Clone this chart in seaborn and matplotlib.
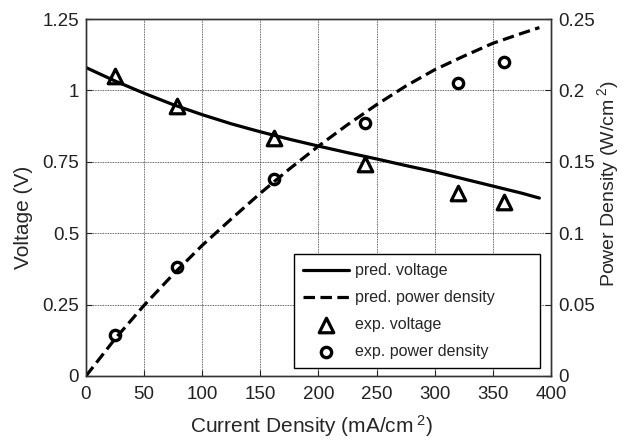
import numpy as np
import pandas as pd
import matplotlib
matplotlib.use("Agg")
import matplotlib.pyplot as plt
import seaborn as sns

# predicted curves
curve_i = [0, 25, 50, 75, 100, 125, 150, 175, 200, 225, 250, 275, 300, 325, 350, 375, 390]
pred_voltage = [1.08, 1.033, 0.99, 0.95, 0.915, 0.883, 0.855, 0.829, 0.805, 0.782, 0.76, 0.737, 0.715, 0.69, 0.665, 0.64, 0.623]
pred_power = [0.0, 0.026, 0.0495, 0.0712, 0.0915, 0.110, 0.128, 0.145, 0.161, 0.176, 0.19, 0.203, 0.2145, 0.224, 0.233, 0.240, 0.244]

# experimental points
exp_i = [25, 78, 162, 240, 320, 360]
exp_voltage = [1.05, 0.945, 0.835, 0.742, 0.64, 0.61]
exp_power = [0.029, 0.076, 0.138, 0.177, 0.205, 0.22]

sns.set_style("ticks")
plt.rcParams["font.family"] = ["Liberation Sans", "DejaVu Sans"]
plt.rcParams["mathtext.fontset"] = "custom"
plt.rcParams["mathtext.rm"] = "Liberation Sans"
plt.rcParams["mathtext.it"] = "Liberation Sans"

curves = pd.DataFrame({"i": curve_i, "v": pred_voltage, "p": pred_power})
pts = pd.DataFrame({"i": exp_i, "v": exp_voltage, "p": exp_power})

fig = plt.figure(figsize=(6.24, 4.41), dpi=100)
ax = fig.add_axes([0.1378, 0.1474, 0.7452, 0.8095])
ax2 = ax.twinx()

sns.lineplot(data=curves, x="i", y="v", ax=ax, color="black", lw=2.3,
             label="pred. voltage", legend=False)
sns.scatterplot(data=pts, x="i", y="v", ax=ax, marker="^", s=110,
                facecolor="white", edgecolor="black", linewidth=2.3,
                label="exp. voltage", legend=False)
sns.lineplot(data=curves, x="i", y="p", ax=ax2, color="black", lw=2.3,
             label="pred. power density", legend=False)
ax2.lines[-1].set_dashes([3.6, 1.7])
sns.scatterplot(data=pts, x="i", y="p", ax=ax2, marker="o", s=55,
                facecolor="white", edgecolor="black", linewidth=2.4,
                label="exp. power density", legend=False)

ax.set_xlim(0, 400)
ax.set_ylim(0, 1.25)
ax2.set_ylim(0, 0.25)
ax.set_xticks(np.arange(0, 401, 50))
ax.set_yticks([0, 0.25, 0.5, 0.75, 1, 1.25])
ax.set_yticklabels(["0", "0.25", "0.5", "0.75", "1", "1.25"])
ax2.set_yticks([0, 0.05, 0.1, 0.15, 0.2, 0.25])
ax2.set_yticklabels(["0", "0.05", "0.1", "0.15", "0.2", "0.25"])

ax.grid(True, color="black", linestyle=(0, (1, 1)), linewidth=0.6, alpha=0.8)
for a in (ax, ax2):
    a.tick_params(direction="in", labelsize=13.5, length=4, colors="#222222", pad=5)
    for s in a.spines.values():
        s.set_color("#333333")
        s.set_linewidth(1.0)
ax.tick_params(axis="x", pad=7)

ax.set_xlabel(r"Current Density (mA/cm$^{\ 2}$)", fontsize=15)
ax.set_ylabel("Voltage (V)", fontsize=15)
ax2.set_ylabel(r"Power Density (W/cm$^{\ 2}$)", fontsize=14)
ax.xaxis.set_label_coords(0.486, -0.105)
ax.yaxis.set_label_coords(-0.115, 0.443)
ax2.yaxis.set_label_coords(1.094, 0.54)

h1, l1 = ax.get_legend_handles_labels()
h2, l2 = ax2.get_legend_handles_labels()
handles = [h1[0], h2[0], h1[1], h2[1]]
labels = [l1[0], l2[0], l1[1], l2[1]]
ax2.legend(handles, labels, loc="lower left", mode="expand",
           bbox_to_anchor=(0.447, 0.0224, 0.529, 0.319), borderaxespad=0,
           fontsize=11.5, frameon=True, fancybox=False, edgecolor="black",
           framealpha=1, handlelength=2.9, handletextpad=0.35,
           labelspacing=0.75, borderpad=0.55)

fig.savefig("out.png", dpi=100)
